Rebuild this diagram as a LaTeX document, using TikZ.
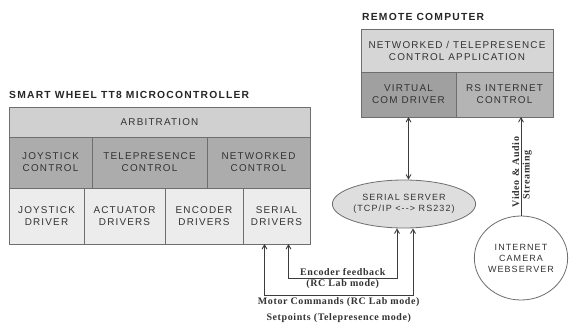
\documentclass[tikz,border=0pt]{standalone}
\usepackage{fontspec}
\setmainfont{Liberation Sans}
\newfontfamily\cellfont[LetterSpace=12]{Liberation Sans}
\newfontfamily\notefont[LetterSpace=6]{Liberation Serif}
\usetikzlibrary{arrows}
\usetikzlibrary{shapes}
\usetikzlibrary{positioning}

\definecolor{edgegray}{RGB}{110,110,110}
\definecolor{arbgray}{RGB}{208,208,208}
\definecolor{ctlgray}{RGB}{172,172,172}
\definecolor{drvgray}{RGB}{236,236,236}
\definecolor{appgray}{RGB}{214,214,214}
\definecolor{comgray}{RGB}{160,160,160}
\definecolor{netgray}{RGB}{180,180,180}
\definecolor{srvgray}{RGB}{222,222,222}
\definecolor{linkgray}{RGB}{60,60,60}

\begin{document}
\begin{tikzpicture}[x=1pt, y=-1pt, >=angle 60,
    cell/.style={draw=edgegray, line width=0.8pt, rectangle, inner sep=1pt, outer sep=0pt, align=center,
        text=black!80, font=\cellfont\fontsize{9.9}{12}\selectfont},
    title/.style={inner sep=0pt, text=black!85, font=\cellfont\bfseries\fontsize{10.3}{12}\selectfont},
    bubble/.style={draw=edgegray, line width=0.8pt, ellipse, inner sep=0pt, align=center,
        text=black!80, font=\cellfont\fontsize{9}{11}\selectfont},
    link/.style={draw=linkgray, line width=0.9pt},
    note/.style={inner sep=1.5pt, align=center, text=black!80, font=\notefont\bfseries\fontsize{10}{15.5}\selectfont}]
    \useasboundingbox (0,0) rectangle (571,324);

    \node [cell, fill=arbgray, anchor=north west, minimum width=301pt, minimum height=30pt] (arb) at (9,107) {ARBITRATION};
    \node [title, above right=8pt and 0pt of arb.north west] (mctitle) {SMART WHEEL TT8 MICROCONTROLLER};

    \node [cell, fill=ctlgray, anchor=north west, minimum width=83pt, minimum height=51pt] (jctl) at (arb.south west) {JOYSTICK\\CONTROL};
    \node [cell, fill=ctlgray, right=0pt of jctl, minimum width=115pt, minimum height=51pt] (tctl) {TELEPRESENCE\\CONTROL};
    \node [cell, fill=ctlgray, right=0pt of tctl, minimum width=103pt, minimum height=51pt] (nctl) {NETWORKED\\CONTROL};

    \node [cell, fill=drvgray, anchor=north west, minimum width=75pt, minimum height=56pt] (jdrv) at (jctl.south west) {JOYSTICK\\DRIVER};
    \node [cell, fill=drvgray, right=0pt of jdrv, minimum width=81pt, minimum height=56pt] (adrv) {ACTUATOR\\DRIVERS};
    \node [cell, fill=drvgray, right=0pt of adrv, minimum width=78pt, minimum height=56pt] (edrv) {ENCODER\\DRIVERS};
    \node [cell, fill=drvgray, right=0pt of edrv, minimum width=67pt, minimum height=56pt] (sdrv) {SERIAL\\DRIVERS};

    \node [cell, fill=appgray, anchor=north west, minimum width=192pt, minimum height=43pt] (app) at (361,29) {NETWORKED / TELEPRESENCE\\CONTROL APPLICATION};
    \node [title, above right=8pt and 1pt of app.north west] (rctitle) {REMOTE COMPUTER};
    \node [cell, fill=comgray, anchor=north west, minimum width=95pt, minimum height=45pt] (vcom) at (app.south west) {VIRTUAL\\COM DRIVER};
    \node [cell, fill=netgray, right=0pt of vcom, minimum width=97pt, minimum height=45pt] (rsi) {RS INTERNET\\CONTROL};

    \node [bubble, fill=srvgray, minimum width=135pt, minimum height=48pt] (srv) at (404,204) {SERIAL SERVER\\(TCP/IP <-{}-> RS232)};
    \node [bubble, fill=white, minimum width=90pt, minimum height=84pt] (cam) at (521,258) {INTERNET\\CAMERA\\WEBSERVER};

    \draw [link, <->] (vcom.south) -- (vcom.south |- srv.north);
    \draw [link, ->] (cam.north) -- (cam.north |- rsi.south);
    \node [note, rotate=90, anchor=south] (vidlabel) at (521,172) {Video \& Audio};
    \node [note, rotate=90, anchor=north] (strlabel) at (521,175) {Streaming};

    \draw [link, <->] ([xshift=12pt]sdrv.south) -- ++(0,34) -| node[note, pos=0.25, above] {Encoder feedback} node[note, pos=0.25, below] {(RC Lab mode)} ([xshift=-7pt]srv.south);
    \draw [link, <->] ([xshift=-12pt]sdrv.south) -- ++(0,51) -| node[note, pos=0.25, below, inner sep=2.5pt] {Motor Commands (RC Lab mode)\\Setpoints (Telepresence mode)} ([xshift=9pt]srv.south);

\end{tikzpicture}
\end{document}
